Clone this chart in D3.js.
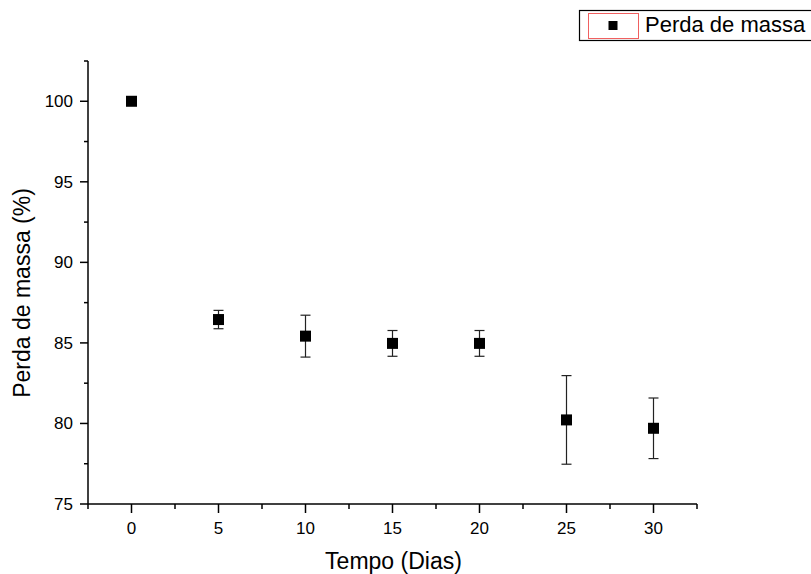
<!DOCTYPE html>
<html><head><meta charset="utf-8">
<script src="https://cdn.jsdelivr.net/npm/d3@7"></script>
<style>body{margin:0;background:#fff}svg{display:block}text{font-family:Arial,"Liberation Sans",sans-serif;fill:#000}</style>
</head><body><svg id="c" width="811" height="574"></svg>
<script>
const days = [0, 5, 10, 15, 20, 25, 30];
const massLoss = [100, 86.45, 85.42, 84.97, 84.97, 80.22, 79.7];
const errors = [0, 0.57, 1.3, 0.8, 0.8, 2.75, 1.88];
const xTicks = [0, 5, 10, 15, 20, 25, 30];
const yTicks = [75, 80, 85, 90, 95, 100];
const seriesName = "Perda de massa";

const svg = d3.select("#c");
const x = d3.scaleLinear().domain([-2.5, 32.5]).range([88, 697]);
const y = d3.scaleLinear().domain([75, 102.5]).range([504, 61]);

const xMinor = d3.range(-2.5, 33, 5);
const yMinor = d3.range(77.5, 103, 5);

const ax = svg.append("g").attr("stroke", "#000").attr("stroke-width", 1.5);
ax.append("line").attr("x1", x(-2.5)).attr("x2", x(32.5)).attr("y1", 504).attr("y2", 504);
ax.append("line").attr("x1", 88).attr("x2", 88).attr("y1", y(75)).attr("y2", y(102.5));
xTicks.forEach(t => ax.append("line").attr("x1", x(t)).attr("x2", x(t)).attr("y1", 504).attr("y2", 513));
xMinor.forEach(t => ax.append("line").attr("x1", x(t)).attr("x2", x(t)).attr("y1", 504).attr("y2", 509));
yTicks.forEach(t => ax.append("line").attr("x1", 80).attr("x2", 88).attr("y1", y(t)).attr("y2", y(t)));
yMinor.forEach(t => ax.append("line").attr("x1", 84).attr("x2", 88).attr("y1", y(t)).attr("y2", y(t)));

svg.append("g").selectAll("text").data(xTicks).join("text")
  .attr("x", d => x(d)).attr("y", 533.5).attr("text-anchor", "middle").attr("font-size", 17).text(d => d);
svg.append("g").selectAll("text").data(yTicks).join("text")
  .attr("x", 73).attr("y", d => y(d) + 6).attr("text-anchor", "end").attr("font-size", 17).text(d => d);

svg.append("text").attr("x", 393.5).attr("y", 569).attr("text-anchor", "middle").attr("font-size", 23).text("Tempo (Dias)");
svg.append("text").attr("transform", "translate(30,293) rotate(-90)").attr("text-anchor", "middle").attr("font-size", 23).text("Perda de massa (%)");

const data = days.map((d, i) => ({d, v: massLoss[i], e: errors[i]}));
const eb = svg.append("g").attr("stroke", "#222").attr("stroke-width", 1.2);
data.filter(p => p.e > 0).forEach(p => {
  eb.append("line").attr("x1", x(p.d)).attr("x2", x(p.d)).attr("y1", y(p.v + p.e)).attr("y2", y(p.v - p.e));
  eb.append("line").attr("x1", x(p.d) - 5).attr("x2", x(p.d) + 5).attr("y1", y(p.v + p.e)).attr("y2", y(p.v + p.e));
  eb.append("line").attr("x1", x(p.d) - 5).attr("x2", x(p.d) + 5).attr("y1", y(p.v - p.e)).attr("y2", y(p.v - p.e));
});
svg.append("g").selectAll("rect").data(data).join("rect")
  .attr("x", p => x(p.d) - 5.5).attr("y", p => y(p.v) - 5.5).attr("width", 11).attr("height", 11).attr("fill", "#000");

const lg = svg.append("g");
lg.append("rect").attr("x", 579.5).attr("y", 10.5).attr("width", 240).attr("height", 30).attr("fill", "#fff").attr("stroke", "#000").attr("stroke-width", 1.2);
lg.append("rect").attr("x", 588.5).attr("y", 13.5).attr("width", 50).attr("height", 25).attr("fill", "none").attr("stroke", "#f06060").attr("stroke-width", 1);
lg.append("rect").attr("x", 608.5).attr("y", 21).attr("width", 9).attr("height", 9).attr("fill", "#000");
lg.append("text").attr("x", 645).attr("y", 32).attr("font-size", 22).text(seriesName);
</script></body></html>
